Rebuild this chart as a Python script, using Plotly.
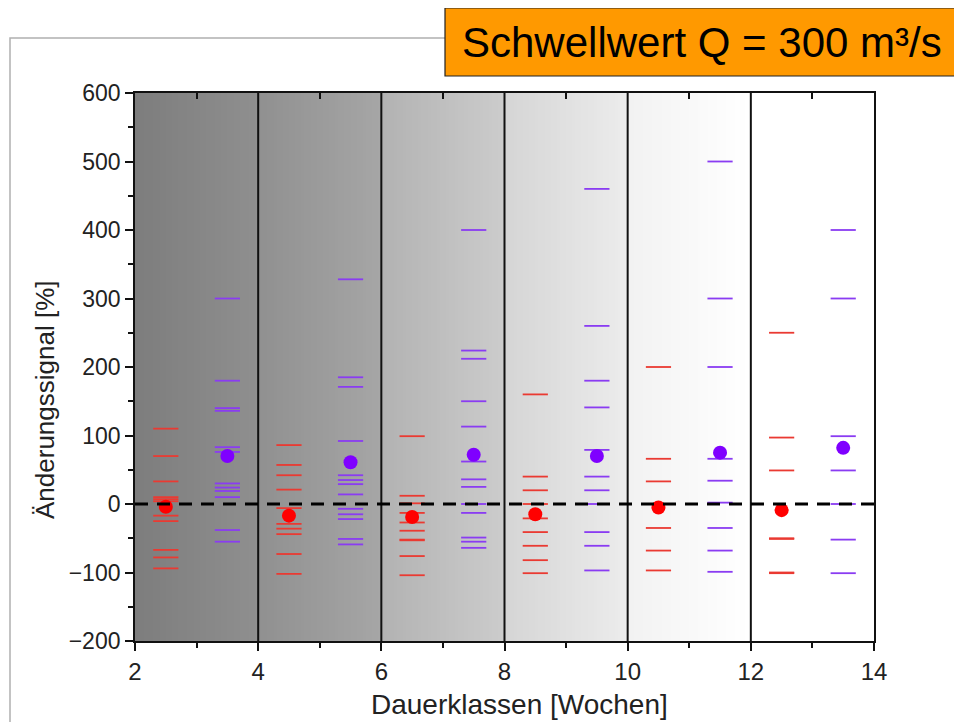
import numpy as np
import plotly.graph_objects as go

# ---------------- data ----------------
red_x = [2.5, 4.5, 6.5, 8.5, 10.5, 12.5]
red_values = [
    [110, 70, 33, 10, 7, 4, -17, -25, -67, -78, -94],
    [86, 57, 42, 21, -6, -29, -36, -44, -73, -102],
    [99, 12, 1, -13, -27, -39, -52, -53, -76, -104],
    [160, 40, 20, 0, -21, -41, -61, -82, -101],
    [200, 66, 33, 0, -35, -68, -97],
    [250, 97, 49, -50, -51, -100, -101],
]
red_mean = [-4, -17, -19, -15, -5, -9]

purple_x = [3.5, 5.5, 7.5, 9.5, 11.5, 13.5]
purple_values = [
    [300, 180, 140, 136, 83, 76, 30, 24, 19, 10, -38, -55],
    [328, 185, 171, 92, 42, 35, 29, 14, -7, -15, -22, -51, -59],
    [400, 224, 212, 150, 113, 62, 36, 25, 0, -13, -49, -55, -64],
    [460, 260, 180, 141, 79, 40, 20, 0, -41, -61, -97],
    [500, 300, 200, 66, 34, 2, -35, -68, -99],
    [400, 300, 99, 49, 0, -52, -101],
]
purple_mean = [70, 61, 72, 70, 75, 82]

class_edges = [2, 4, 6, 8, 10, 12, 14]
# grey level at the left and right edge of each class band (0-255)
band_grey = [(125, 143), (144, 166), (178, 204), (213, 236), (242, 255), (255, 255)]

x_ticks = [2, 4, 6, 8, 10, 12, 14]
top_ticks = [3, 5, 7, 9, 11, 13]
y_ticks = [-200, -100, 0, 100, 200, 300, 400, 500, 600]

title_text = "Schwellwert Q = 300 m³/s"
x_title = "Dauerklassen [Wochen]"
y_title = "Änderungssignal [%]"

# ---------------- figure ----------------
OFF = 8                      # page body margin
W, H = 962 - OFF, 722 - OFF
PL, PR, PT, PB = 135, 874, 93, 641   # plot area in page pixels
L, T = PL - OFF, PT - OFF
PW, PH = PR - PL, PB - PT

def px_x(p):
    return (p - PL) / PW

def px_y(p):
    return (PB - p) / PH

FONT = "Arial, Liberation Sans, sans-serif"

fig = go.Figure()

# background gradient bands
edges = np.linspace(class_edges[0], class_edges[-1], 241)
centers = (edges[:-1] + edges[1:]) / 2
zrow = []
for c in centers:
    for i in range(len(class_edges) - 1):
        a, b = class_edges[i], class_edges[i + 1]
        if a <= c < b or (i == len(class_edges) - 2 and c >= b):
            g0, g1 = band_grey[i]
            zrow.append(g0 + (g1 - g0) * (c - a) / (b - a))
            break
fig.add_trace(go.Heatmap(
    x=edges, y=[y_ticks[0], y_ticks[-1]], z=[zrow],
    colorscale=[[0, "rgb(0,0,0)"], [1, "rgb(255,255,255)"]],
    zmin=0, zmax=255, showscale=False, hoverinfo="skip",
))

# dashes
rx, ry = [], []
for x, vals in zip(red_x, red_values):
    rx += [x] * len(vals)
    ry += vals
px_, py_ = [], []
for x, vals in zip(purple_x, purple_values):
    px_ += [x] * len(vals)
    py_ += vals

fig.add_trace(go.Scatter(
    x=rx, y=ry, mode="markers", hoverinfo="skip",
    marker=dict(symbol="line-ew", size=18, line=dict(color="#ea3a32", width=1.8)),
))
fig.add_trace(go.Scatter(
    x=px_, y=py_, mode="markers", hoverinfo="skip",
    marker=dict(symbol="line-ew", size=18, line=dict(color="#8a3cf2", width=1.8)),
))
fig.add_trace(go.Scatter(
    x=red_x, y=red_mean, mode="markers", hoverinfo="skip",
    marker=dict(symbol="circle", size=14, color="#ff0000"),
))
fig.add_trace(go.Scatter(
    x=purple_x, y=purple_mean, mode="markers", hoverinfo="skip",
    marker=dict(symbol="circle", size=14, color="#7f00ff"),
))
# invisible trace for the top axis
fig.add_trace(go.Scatter(x=[class_edges[0]], y=[0], xaxis="x2", mode="markers",
                         marker=dict(opacity=0), hoverinfo="skip"))

shapes = []
for e in class_edges[1:-1]:
    shapes.append(dict(type="line", xref="x", yref="y", x0=e, x1=e,
                       y0=y_ticks[0], y1=y_ticks[-1],
                       line=dict(color="#111", width=2), layer="above"))
shapes.append(dict(type="line", xref="x", yref="y", x0=class_edges[0], x1=class_edges[-1],
                   y0=0, y1=0, line=dict(color="#000", width=2.8, dash="13px,9px"),
                   layer="above"))
# outer slide frame
shapes.append(dict(type="rect", xref="paper", yref="paper",
                   x0=px_x(10), x1=px_x(990), y0=px_y(760), y1=px_y(38),
                   line=dict(color="#b0b0b0", width=1.5), layer="above"))
# orange title box
shapes.append(dict(type="rect", xref="paper", yref="paper",
                   x0=px_x(445), x1=px_x(990), y0=px_y(76), y1=px_y(8),
                   fillcolor="#ff9900", line=dict(color="#222", width=1.2), layer="above"))

annotations = [
    dict(text=title_text, xref="paper", yref="paper", x=px_x(460), y=px_y(43),
         xanchor="left", yanchor="middle", showarrow=False,
         font=dict(family=FONT, size=42, color="#000")),
    dict(text=x_title, xref="paper", yref="paper", x=px_x(519), y=px_y(704),
         xanchor="center", yanchor="middle", showarrow=False,
         font=dict(family=FONT, size=28, color="#222")),
    dict(text=y_title, xref="paper", yref="paper", x=px_x(45), y=px_y(400),
         xanchor="center", yanchor="middle", showarrow=False, textangle=-90,
         font=dict(family=FONT, size=26, color="#222")),
]

fig.update_layout(
    width=W, height=H,
    margin=dict(l=L, r=W - L - PW, t=T, b=H - T - PH, pad=0),
    paper_bgcolor="white", plot_bgcolor="white",
    showlegend=False,
    shapes=shapes, annotations=annotations,
    font=dict(family=FONT, size=22, color="#222"),
    xaxis=dict(range=[class_edges[0], class_edges[-1]], tickvals=x_ticks,
               ticks="outside", ticklen=8, tickwidth=1.6, tickcolor="#111",
               minor=dict(dtick=1, ticks="outside", ticklen=5, tickwidth=1.6, tickcolor="#111"),
               showline=True, linecolor="#111", linewidth=1.8, mirror=True,
               showgrid=False, zeroline=False,
               tickfont=dict(family=FONT, size=24, color="#222")),
    xaxis2=dict(range=[class_edges[0], class_edges[-1]], overlaying="x", side="top",
                anchor="y", tickvals=top_ticks, ticks="inside", ticklen=6,
                tickwidth=1.6, tickcolor="#111", showticklabels=False,
                showline=False, showgrid=False, zeroline=False),
    yaxis=dict(range=[y_ticks[0], y_ticks[-1]], tickvals=y_ticks,
               ticks="outside", ticklen=8, tickwidth=1.6, tickcolor="#111",
               minor=dict(dtick=50, ticks="outside", ticklen=5, tickwidth=1.6, tickcolor="#111"),
               showline=True, linecolor="#111", linewidth=1.8, mirror=True,
               showgrid=False, zeroline=False,
               tickfont=dict(family=FONT, size=23, color="#222")),
)

fig.write_html("out.html")
